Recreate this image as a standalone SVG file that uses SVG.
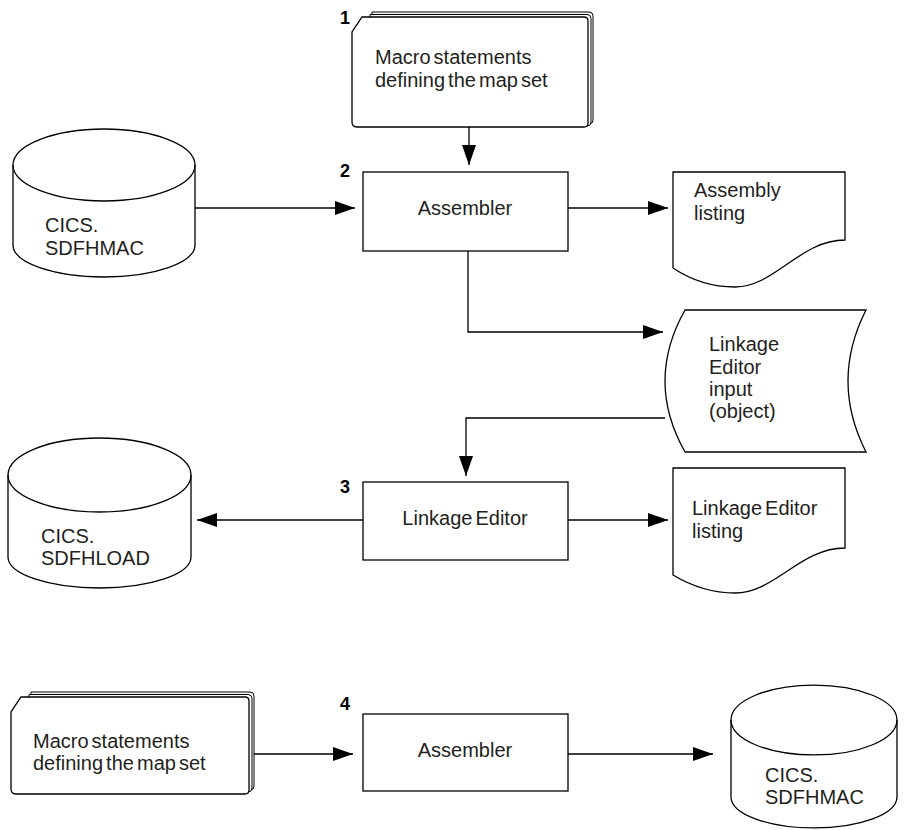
<svg xmlns="http://www.w3.org/2000/svg" width="906" height="830" viewBox="0 0 906 830">
<style>
.s{fill:#fff;stroke:#000;stroke-width:1.3}
.b{fill:#fff;stroke:#000;stroke-width:1}
.c{fill:none;stroke:#000;stroke-width:1.3}
.t{font-family:"Liberation Sans",Arial,sans-serif;font-size:20px;fill:#231f20;word-spacing:-2.5px}
.n{font-family:"Liberation Sans",Arial,sans-serif;font-size:18px;font-weight:bold;fill:#000}
</style>
<defs>
<marker id="ah" markerUnits="userSpaceOnUse" markerWidth="22" markerHeight="14" refX="20" refY="7" orient="auto">
<path d="M0,0 L20,7 L0,14 Z" fill="#000"/>
</marker>
</defs>
<g id="connectors">
<line class="c" x1="469" y1="127" x2="469" y2="165" marker-end="url(#ah)"/>
<line class="c" x1="195" y1="208" x2="355" y2="208" marker-end="url(#ah)"/>
<line class="c" x1="568" y1="208" x2="668" y2="208" marker-end="url(#ah)"/>
<polyline class="c" points="468,251 468,332 663,332" marker-end="url(#ah)"/>
<polyline class="c" points="665,418 466,418 466,476" marker-end="url(#ah)"/>
<line class="c" x1="363" y1="520" x2="197" y2="520" marker-end="url(#ah)"/>
<line class="c" x1="568" y1="520" x2="668" y2="520" marker-end="url(#ah)"/>
<line class="c" x1="249" y1="754" x2="353" y2="754" marker-end="url(#ah)"/>
<line class="c" x1="568" y1="754" x2="713" y2="754" marker-end="url(#ah)"/>
</g>
<g id="macro1">
<path class="b" d="M372,12 H589 Q593,12 593,16 V120 Q593,124 589,124 H372 Z"/>
<path class="b" d="M370,14.5 H587 Q591,14.5 591,18.5 V122 Q591,126 587,126 H370 Z"/>
<path class="s" d="M362,17 H584 Q588,17 588,21 V123 Q588,127 584,127 H357 Q352,127 352,122 V32 Z"/>
<text class="n" x="340" y="24">1</text>
<text class="t" x="375" y="64">Macro statements</text>
<text class="t" x="375" y="87">defining the map set</text>
</g>
<g id="assembler1">
<rect class="s" x="363" y="172" width="205" height="79"/>
<text class="n" x="340" y="177">2</text>
<text class="t" x="465" y="215" text-anchor="middle">Assembler</text>
</g>
<g id="sdfhmac1">
<path class="s" d="M13,165 V245 A91,32 0 0 0 195,245 V165 A91,36 0 0 0 13,165 Z"/>
<path class="c" d="M13,165 A91,36 0 0 0 195,165"/>
<text class="t" x="45" y="232">CICS.</text>
<text class="t" x="45" y="255">SDFHMAC</text>
</g>
<g id="assemblylisting">
<path class="s" d="M673,172 H845 V240 C800,240 775,287 735,287 C710,287 688,278 673,268 Z"/>
<text class="t" x="694" y="197">Assembly</text>
<text class="t" x="694" y="220">listing</text>
</g>
<g id="linkinput">
<path class="s" d="M685,310 H866 Q830,381 866,452 H685 Q645,381 685,310 Z"/>
<text class="t" x="709" y="351">Linkage</text>
<text class="t" x="709" y="374">Editor</text>
<text class="t" x="709" y="396">input</text>
<text class="t" x="709" y="418">(object)</text>
</g>
<g id="linkeditor">
<rect class="s" x="363" y="482" width="205" height="78"/>
<text class="n" x="340" y="493">3</text>
<text class="t" x="465" y="525" text-anchor="middle">Linkage Editor</text>
</g>
<g id="sdfhload">
<path class="s" d="M8,475 V557 A91.5,31 0 0 0 191,557 V475 A91.5,37 0 0 0 8,475 Z"/>
<path class="c" d="M8,475 A91.5,37 0 0 0 191,475"/>
<text class="t" x="41" y="543">CICS.</text>
<text class="t" x="41" y="565">SDFHLOAD</text>
</g>
<g id="linklisting">
<path class="s" d="M673,468 H845 V548 C800,548 775,593 735,593 C710,593 688,584 673,575 Z"/>
<text class="t" x="692" y="515">Linkage Editor</text>
<text class="t" x="692" y="538">listing</text>
</g>
<g id="macro2">
<path class="b" d="M31,692 H250 Q254,692 254,696 V786 Q254,790 250,790 H31 Z"/>
<path class="b" d="M29,694.5 H248 Q252,694.5 252,698.5 V788 Q252,792 248,792 H29 Z"/>
<path class="s" d="M21,697 H245 Q249,697 249,701 V790 Q249,794 245,794 H16 Q11,794 11,789 V712 Z"/>
<text class="t" x="33" y="748">Macro statements</text>
<text class="t" x="33" y="770">defining the map set</text>
</g>
<g id="assembler2">
<rect class="s" x="363" y="714" width="205" height="77"/>
<text class="n" x="340" y="710">4</text>
<text class="t" x="465" y="757" text-anchor="middle">Assembler</text>
</g>
<g id="sdfhmac2">
<path class="s" d="M731,720 V797 A83,31 0 0 0 897,797 V720 A83,35 0 0 0 731,720 Z"/>
<path class="c" d="M731,720 A83,35 0 0 0 897,720"/>
<text class="t" x="765" y="782">CICS.</text>
<text class="t" x="765" y="804">SDFHMAC</text>
</g>
</svg>
